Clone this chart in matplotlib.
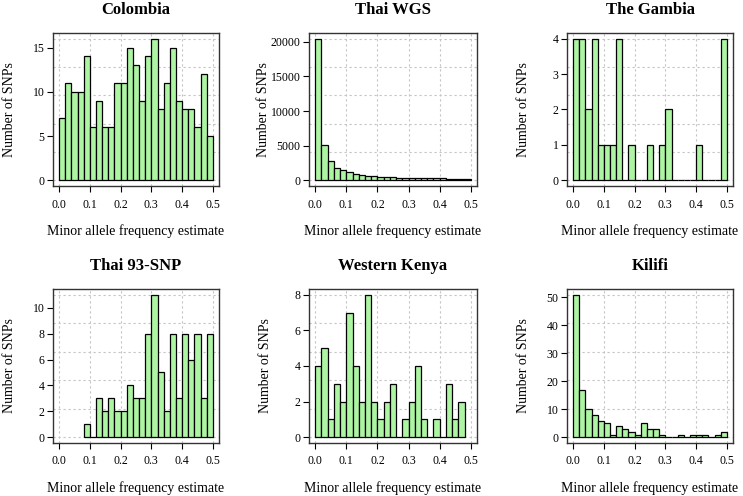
import matplotlib.pyplot as plt
import numpy as np

plt.rcParams['font.family'] = ['Liberation Serif', 'DejaVu Serif']

# bin width 0.02, counts
bin_width = 0.02

colombia_start = 0.0
colombia_counts = [7, 11, 10, 10, 14, 6, 9, 6, 6, 11, 11, 15, 13, 9, 14, 16, 8, 11, 15, 9, 8, 8, 6, 12, 5]

thai_wgs_start = 0.0
thai_wgs_counts = [20450, 5100, 2730, 1850, 1430, 1150, 950, 770, 670, 580, 510, 460, 420, 390,
                   360, 340, 320, 300, 290, 280, 270, 260, 250, 240, 230]

gambia_start = 0.0
gambia_counts = [4, 4, 2, 4, 1, 1, 1, 4, 0, 1, 0, 0, 1, 0, 1, 2, 0, 0, 0, 0, 1, 0, 0, 0, 4]

thai93_start = 0.08
thai93_counts = [1, 0, 3, 2, 3, 2, 2, 4, 3, 3, 8, 11, 5, 2, 8, 3, 8, 6, 8, 3, 8]

kenya_start = 0.0
kenya_counts = [4, 5, 1, 3, 2, 7, 4, 2, 8, 2, 1, 2, 3, 0, 1, 2, 4, 1, 0, 1, 0, 3, 1, 2]

kilifi_start = 0.0
kilifi_counts = [51, 17, 10, 8, 6, 5, 1, 4, 3, 2, 1, 5, 3, 3, 1, 0, 0, 1, 0, 1, 1, 1, 0, 1, 2]

titles = ["Colombia", "Thai WGS", "The Gambia", "Thai 93-SNP", "Western Kenya", "Kilifi"]
starts = [colombia_start, thai_wgs_start, gambia_start, thai93_start, kenya_start, kilifi_start]
counts = [colombia_counts, thai_wgs_counts, gambia_counts, thai93_counts, kenya_counts, kilifi_counts]
yticks = [[0, 5, 10, 15], [0, 5000, 10000, 15000, 20000], [0, 1, 2, 3, 4],
          [0, 2, 4, 6, 8, 10], [0, 2, 4, 6, 8], [0, 10, 20, 30, 40, 50]]
xticks = [0.0, 0.1, 0.2, 0.3, 0.4, 0.5]

W, H = 743, 496
fig = plt.figure(figsize=(W / 100, H / 100), dpi=100)

# panel boxes in pixels (left, right) / (top, bottom)
cols = [(53, 219), (309, 477), (567, 733)]
rows = [(33, 186), (289, 443)]
ylab_gap = [37, 39, 37, 37, 37, 37]

for i in range(6):
    l, r = cols[i % 3]
    t, b = rows[i // 3]
    ax = fig.add_axes([l / W, 1 - b / H, (r - l) / W, (b - t) / H])
    c = np.array(counts[i])
    left = starts[i] + bin_width * np.arange(len(c))
    m = c.max()

    # grid: 5 equal steps from 0 to max count, vertical at x ticks
    for gy in np.linspace(0, m, 6):
        ax.axhline(gy, color='#c4c4c4', lw=0.8, ls=(0, (2, 2.5)), zorder=0)
    for gx in xticks:
        ax.axvline(gx, color='#c4c4c4', lw=0.8, ls=(0, (2, 2.5)), zorder=0)

    ax.bar(left, c, width=bin_width, align='edge', color='#adf5a3',
           edgecolor='black', linewidth=0.9, zorder=2)

    ax.set_xlim(-0.02, 0.52)
    ax.set_ylim(-0.04 * m, 1.04 * m)
    ax.set_xticks(xticks)
    ax.set_xticklabels(["%.1f" % x for x in xticks])
    ax.set_yticks(yticks[i])
    ax.set_yticklabels([str(v) for v in yticks[i]])
    ax.tick_params(axis='x', direction='out', length=4.5, width=0.8, pad=4.5, labelsize=8.5)
    ax.tick_params(axis='y', direction='out', length=4.5, width=0.8, pad=1.5, labelsize=8.5)
    for s in ax.spines.values():
        s.set_color('#333333')
        s.set_linewidth(1.0)

    ax.set_title(titles[i], fontsize=12, fontweight='bold', pad=14)
    ax.set_xlabel("Minor allele frequency estimate", fontsize=10)
    ax.set_ylabel("Number of SNPs", fontsize=10)
    ax.xaxis.set_label_coords(0.5, -38 / (b - t))
    ax.yaxis.set_label_coords(-ylab_gap[i] / (r - l), 0.5)

fig.savefig("out.png", dpi=100)
